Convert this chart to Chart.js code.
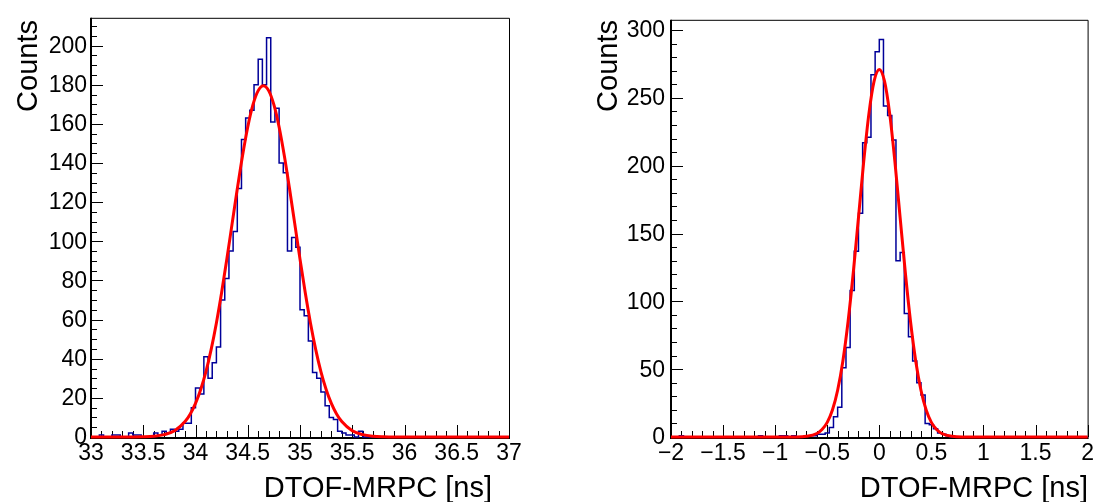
<!DOCTYPE html>
<html><head><meta charset="utf-8">
<script src="https://cdn.jsdelivr.net/npm/chart.js@4.4.1/dist/chart.umd.min.js"></script>
<style>
html,body{margin:0;padding:0;background:#fff;}
#wrap{position:relative;width:1097px;height:502px;background:#fff;overflow:hidden;}
canvas{position:absolute;top:0;}
</style></head><body>
<div id="wrap">
<canvas id="c1" width="548" height="502" style="left:0;width:548px;height:502px"></canvas>
<canvas id="c2" width="549" height="502" style="left:548px;width:549px;height:502px"></canvas>
</div>
<script>
// ---------- DATA ----------
const leftBinRange = [33, 37];
const leftCounts = [
 0,0,1,0,0,1,1,0,0,2,
 1,1,0,0,0,2,1,3,2,4,
 3,4,7,7,15,25,22,41,30,38,
 46,70,81,95,105,127,152,163,167,180,
 193,180,204,161,168,140,135,95,102,97,
 65,62,49,33,30,23,16,10,9,3,
 2,1,1,0,3,0,0,0,0,0,
 0,0,0,0,0,0,0,0,0,0,
 0,0,0,0,0,0,0,0,0,0,
 0,0,0,0,0,0,0,0,0,0];
const leftFitX = [33.0,33.4,33.5,33.6,33.7,33.8,33.9,33.95,34.0,34.05,34.1,34.15,34.2,34.25,34.3,34.35,34.4,34.45,34.5,34.55,34.6,34.65,34.7,34.75,34.8,34.85,34.9,34.95,35.0,35.05,35.1,35.15,35.2,35.25,35.3,35.35,35.4,35.5,35.6,35.7,35.8,35.9,37.0];
const leftFitY = [0,0.03,0.12,0.39,1.2,3.2,7.9,11.8,17.2,24.3,33.4,44.8,58.3,73.8,90.9,108.9,126.8,143.7,158.4,169.8,177.0,179.5,177.0,169.8,158.4,143.7,126.8,108.9,90.9,73.8,58.3,44.8,33.4,24.3,17.2,11.8,7.9,3.2,1.2,0.39,0.12,0.03,0];
const leftXTickValues = [33,33.5,34,34.5,35,35.5,36,36.5,37];
const leftXTickLabels = ['33','33.5','34','34.5','35','35.5','36','36.5','37'];
const leftYTickValues = [0,20,40,60,80,100,120,140,160,180,200];
const leftYTickLabels = ['0','20','40','60','80','100','120','140','160','180','200'];
const leftYMax = 214.2;

const rightBinRange = [-2, 2];
const rightCounts = [
 0,0,1,0,0,0,0,0,0,0,
 0,0,0,0,0,0,0,0,0,0,
 0,1,0,0,0,0,1,1,0,1,
 0,0,1,1,1,2,2,3,7,15,
 22,51,66,108,137,165,217,221,267,284,
 293,244,237,219,130,136,91,74,56,40,
 31,10,9,6,3,2,1,0,0,0,
 0,0,0,0,0,0,0,0,0,0,
 0,0,0,0,0,0,0,0,0,0,
 0,0,0,0,0,0,0,0,0,0];
const rightFitX = [-2.0,-0.8,-0.7,-0.6,-0.55,-0.5,-0.45,-0.4,-0.35,-0.3,-0.25,-0.2,-0.15,-0.1,-0.05,0,0.05,0.1,0.15,0.2,0.25,0.3,0.35,0.4,0.45,0.5,0.55,0.6,0.7,0.8,2.0];
const rightFitY = [0,0.07,0.49,2.6,5.5,10.8,19.9,34.5,55.9,85.0,121.1,161.8,202.8,238.2,262.4,271,262.4,238.2,202.8,161.8,121.1,85.0,55.9,34.5,19.9,10.8,5.5,2.6,0.49,0.07,0];
const rightXTickValues = [-2,-1.5,-1,-0.5,0,0.5,1,1.5,2];
const rightXTickLabels = ['\u22122','\u22121.5','\u22121','\u22120.5','0','0.5','1','1.5','2'];
const rightYTickValues = [0,50,100,150,200,250,300];
const rightYTickLabels = ['0','50','100','150','200','250','300'];
const rightYMax = 307.6;

const xTitle = 'DTOF-MRPC [ns]';
const yTitle = 'Counts';

// ---------- helpers ----------
const FONT = '"Liberation Sans", Arial, Helvetica, sans-serif';
function histPoints(range, counts){
  const n = counts.length, w = (range[1]-range[0])/n;
  const pts = counts.map((c,i)=>({x: range[0]+i*w, y: c}));
  pts.push({x: range[1], y: counts[n-1]});
  return pts;
}
function curvePoints(xs, ys){ return xs.map((x,i)=>({x:x, y:ys[i]})); }

function framePlugin(cfg){
  return {
    id: 'rootFrame',
    beforeDatasetsDraw(chart){
      const {ctx, chartArea:a, scales:{x,y}} = chart;
      ctx.save();
      ctx.strokeStyle = '#000';
      ctx.lineWidth = 1;
      ctx.beginPath();
      const nx = Math.round((cfg.xMax-cfg.xMin)/cfg.xMinor);
      for(let k=0;k<=nx;k++){
        const v = cfg.xMin + k*cfg.xMinor;
        const px = Math.round(x.getPixelForValue(v)) + 0.5;
        const len = (k % cfg.xPer === 0) ? cfg.major : cfg.minor;
        ctx.moveTo(px, a.bottom); ctx.lineTo(px, a.bottom - len);
      }
      const ny = Math.floor(cfg.yMax/cfg.yMinor + 1e-9);
      for(let k=0;k<=ny;k++){
        const v = k*cfg.yMinor;
        const py = Math.round(y.getPixelForValue(v)) + 0.5;
        const len = (k % cfg.yPer === 0) ? cfg.major : cfg.minor;
        ctx.moveTo(a.left, py); ctx.lineTo(a.left + len, py);
      }
      ctx.stroke();
      ctx.beginPath();
      ctx.moveTo(a.left, a.top+0.5); ctx.lineTo(a.right+0.5, a.top+0.5); ctx.lineTo(a.right+0.5, a.bottom);
      ctx.stroke();
      ctx.lineWidth = 2;
      ctx.beginPath();
      ctx.moveTo(a.left, a.top); ctx.lineTo(a.left, a.bottom+1); ctx.lineTo(a.right+1, a.bottom+1);
      ctx.stroke();
      ctx.restore();
    },
    afterDraw(chart){
      const {ctx} = chart;
      ctx.save();
      ctx.fillStyle = '#000';
      ctx.font = '29px ' + FONT;
      ctx.textBaseline = 'alphabetic';
      ctx.textAlign = 'right';
      ctx.fillText(xTitle, cfg.xTitleRight, cfg.xTitleBase);
      ctx.translate(cfg.yTitleBase, cfg.yTitleTop);
      ctx.rotate(-Math.PI/2);
      ctx.fillText(yTitle, 0, 0);
      ctx.restore();
    }
  };
}

function makeChart(id, o){
  const ctx = document.getElementById(id);
  return new Chart(ctx, {
    type: 'line',
    data: {
      datasets: [
        { data: curvePoints(o.fitX, o.fitY), borderColor: '#ff0000', borderWidth: 3,
          pointRadius: 0, cubicInterpolationMode: 'monotone', fill: false, clip: false },
        { data: histPoints(o.range, o.counts), borderColor: '#000099', borderWidth: 1.5,
          pointRadius: 0, stepped: 'before', tension: 0, fill: false, clip: false }
      ]
    },
    options: {
      responsive: false, animation: false, devicePixelRatio: 1,
      layout: { padding: { top: 15, right: o.padRight, bottom: 0, left: 0 } },
      plugins: { legend: { display: false }, tooltip: { enabled: false } },
      scales: {
        x: {
          type: 'linear', min: o.range[0], max: o.range[1],
          grid: { display: false, drawTicks: false }, border: { display: false },
          afterBuildTicks: s => { s.ticks = o.xTickValues.map(v=>({value:v})); },
          afterFit: s => { s.height = 65; },
          ticks: { autoSkip: false, maxRotation: 0, minRotation: 0, padding: 3, color: '#000',
            font: { family: FONT, size: 23 },
            callback: (v) => { const i = o.xTickValues.indexOf(v); return i>=0 ? o.xTickLabels[i] : ''; } }
        },
        y: {
          type: 'linear', min: 0, max: o.yMax,
          grid: { display: false, drawTicks: false }, border: { display: false },
          afterBuildTicks: s => { s.ticks = o.yTickValues.map(v=>({value:v})); },
          afterFit: s => { s.width = o.yWidth; },
          ticks: { padding: o.yPad, color: '#000', labelOffset: 1,
            font: { family: FONT, size: 23 },
            callback: (v) => { const i = o.yTickValues.indexOf(v); return i>=0 ? o.yTickLabels[i] : ''; } }
        }
      }
    },
    plugins: [framePlugin(o.frame)]
  });
}

makeChart('c1', {
  range: leftBinRange, counts: leftCounts, fitX: leftFitX, fitY: leftFitY,
  xTickValues: leftXTickValues, xTickLabels: leftXTickLabels,
  yTickValues: leftYTickValues, yTickLabels: leftYTickLabels, yMax: leftYMax,
  padRight: 39, yWidth: 91, yPad: 4,
  frame: { xMin: 33, xMax: 37, xMinor: 0.1, xPer: 5, yMax: leftYMax, yMinor: 5, yPer: 4,
           major: 12, minor: 6, xTitleRight: 492, xTitleBase: 497, yTitleBase: 37, yTitleTop: 20 }
});
makeChart('c2', {
  range: rightBinRange, counts: rightCounts, fitX: rightFitX, fitY: rightFitY,
  xTickValues: rightXTickValues, xTickLabels: rightXTickLabels,
  yTickValues: rightYTickValues, yTickLabels: rightYTickLabels, yMax: rightYMax,
  padRight: 8, yWidth: 123, yPad: 6,
  frame: { xMin: -2, xMax: 2, xMinor: 0.1, xPer: 5, yMax: rightYMax, yMinor: 10, yPer: 5,
           major: 12, minor: 6, xTitleRight: 1088-548, xTitleBase: 497, yTitleBase: 617-548, yTitleTop: 20 }
});
</script>
</body></html>
